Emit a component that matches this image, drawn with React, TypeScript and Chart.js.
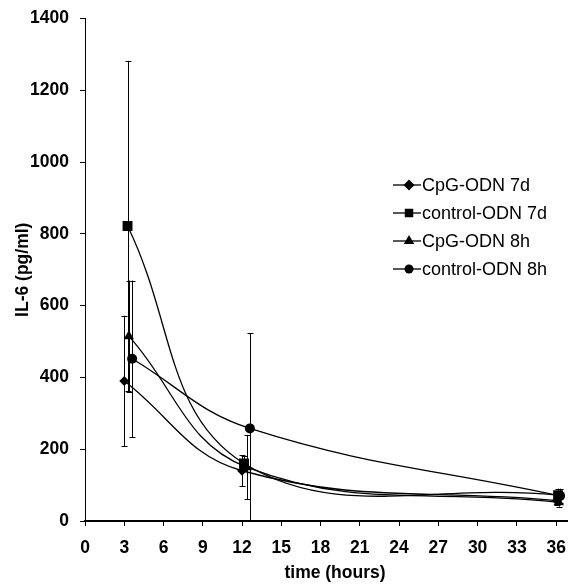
import React, { useEffect, useRef } from 'react';
import { Chart, registerables } from 'chart.js';

Chart.register(...registerables);

// ---- data ----
const seriesNames = ['CpG-ODN 7d', 'control-ODN 7d', 'CpG-ODN 8h', 'control-ODN 8h'];

const cpg7dX = [3.0, 12.0, 36.05];
const cpg7dY = [390, 140, 57];
const cpg7dErr = [182, 43, 12];

const ctl7dX = [3.25, 12.15, 36.15];
const ctl7dY = [822, 160, 72];
const ctl7dErr = [460, 20, 18];

const cpg8hX = [3.35, 12.35, 36.2];
const cpg8hY = [515, 150, 52];
const cpg8hErr = [155, 90, 12];

const ctl8hX = [3.6, 12.6, 36.3];
const ctl8hY = [452, 258, 70];
const ctl8hErr = [218, 265, 20];

const xTickValues = [0, 3, 6, 9, 12, 15, 18, 21, 24, 27, 30, 33, 36];
const yTickValues = [0, 200, 400, 600, 800, 1000, 1200, 1400];
const xTitle = 'time (hours)';
const yTitle = 'IL-6 (pg/ml)';

const seriesX = [cpg7dX, ctl7dX, cpg8hX, ctl8hX];
const seriesY = [cpg7dY, ctl7dY, cpg8hY, ctl8hY];
const seriesErr = [cpg7dErr, ctl7dErr, cpg8hErr, ctl8hErr];
const pointStyles = ['rectRot', 'rect', 'triangle', 'circle'];
const pointRadii = [5, 7, 6, 5];
const legendRadii = [5.5, 6, 6, 4.5];

const FONT = "'Liberation Sans', Arial, sans-serif";

function drawMarker(ctx: CanvasRenderingContext2D, style: string, r: number, x: number, y: number) {
  ctx.beginPath();
  if (style === 'rectRot') {
    ctx.moveTo(x, y - r);
    ctx.lineTo(x + r, y);
    ctx.lineTo(x, y + r);
    ctx.lineTo(x - r, y);
    ctx.closePath();
  } else if (style === 'rect') {
    const s = r * Math.SQRT1_2;
    ctx.rect(x - s, y - s, 2 * s, 2 * s);
  } else if (style === 'triangle') {
    ctx.moveTo(x, y - r);
    ctx.lineTo(x + r * Math.sin(Math.PI / 3), y + r * 0.5);
    ctx.lineTo(x - r * Math.sin(Math.PI / 3), y + r * 0.5);
    ctx.closePath();
  } else {
    ctx.arc(x, y, r, 0, Math.PI * 2);
  }
  ctx.fill();
}

const errorBarPlugin = {
  id: 'errorBars',
  beforeDatasetsDraw(chart: any) {
    const ctx = chart.ctx;
    const xs = chart.scales.x;
    const ys = chart.scales.y;
    ctx.save();
    ctx.strokeStyle = '#000';
    ctx.lineWidth = 1;
    seriesX.forEach((xArr, si) => {
      xArr.forEach((xv, i) => {
        const px = Math.round(xs.getPixelForValue(xv)) + 0.5;
        const lo = Math.max(0, seriesY[si][i] - seriesErr[si][i]);
        const hi = seriesY[si][i] + seriesErr[si][i];
        const pLo = ys.getPixelForValue(lo);
        const pHi = ys.getPixelForValue(hi);
        ctx.beginPath();
        ctx.moveTo(px, pLo);
        ctx.lineTo(px, pHi);
        if (seriesY[si][i] - seriesErr[si][i] > 0) {
          ctx.moveTo(px - 3, Math.round(pLo) + 0.5);
          ctx.lineTo(px + 3, Math.round(pLo) + 0.5);
        }
        ctx.moveTo(px - 3, Math.round(pHi) + 0.5);
        ctx.lineTo(px + 3, Math.round(pHi) + 0.5);
        ctx.stroke();
      });
    });
    ctx.restore();
  },
};

const legendPlugin = {
  id: 'customLegend',
  afterDatasetsDraw(chart: any) {
    const ctx = chart.ctx;
    const rows = [185, 213, 241, 269];
    ctx.save();
    seriesNames.forEach((name, i) => {
      const y = rows[i];
      ctx.strokeStyle = '#000';
      ctx.lineWidth = 1.3;
      ctx.beginPath();
      ctx.moveTo(393, y);
      ctx.lineTo(421, y);
      ctx.stroke();
      ctx.fillStyle = '#000';
      drawMarker(ctx, pointStyles[i], legendRadii[i], 409, y);
      ctx.font = `18px ${FONT}`;
      ctx.textAlign = 'left';
      ctx.textBaseline = 'middle';
      ctx.fillText(name, 422, y + 1);
    });
    // x-axis title
    ctx.font = `bold 17.5px ${FONT}`;
    ctx.textAlign = 'center';
    ctx.textBaseline = 'middle';
    ctx.fillText(xTitle, 335, 573.5);
    ctx.restore();
  },
};

export default function App() {
  const ref = useRef<HTMLCanvasElement>(null);

  useEffect(() => {
    const canvas = ref.current;
    if (!canvas) return;
    const chart = new Chart(canvas, {
      type: 'line',
      data: {
        datasets: seriesNames.map((name, si) => ({
          label: name,
          data: seriesX[si].map((x, i) => ({ x, y: seriesY[si][i] })),
          borderColor: '#000',
          backgroundColor: '#000',
          borderWidth: 1.3,
          pointStyle: pointStyles[si] as any,
          pointRadius: pointRadii[si],
          pointBorderWidth: 0,
          pointBackgroundColor: '#000',
          pointBorderColor: '#000',
          tension: 0.4,
          fill: false,
        })),
      },
      options: {
        responsive: false,
        animation: false,
        layout: { padding: { top: 18.5, right: 0, left: 0, bottom: 0 } },
        plugins: {
          legend: { display: false },
          tooltip: { enabled: false },
        },
        scales: {
          x: {
            type: 'linear',
            min: 0,
            max: 36.83,
            afterBuildTicks: (s: any) => {
              s.ticks = xTickValues.map((v) => ({ value: v }));
            },
            afterFit: (s: any) => {
              s.height = 63;
              s.paddingLeft = 0;
              s.paddingRight = 0;
            },
            grid: { display: true, drawOnChartArea: false, tickLength: 5, color: '#000', lineWidth: 1 },
            border: { display: true, color: '#000', width: 2 },
            ticks: {
              padding: 12,
              color: '#000',
              font: { family: FONT, size: 17.5, weight: 'bold' },
              maxRotation: 0,
              autoSkip: false,
              callback: (v: any) => String(v),
            },
            title: { display: false },
          },
          y: {
            type: 'linear',
            min: 0,
            max: 1400,
            afterBuildTicks: (s: any) => {
              s.ticks = yTickValues.map((v) => ({ value: v }));
            },
            afterFit: (s: any) => {
              s.width = 85;
              s.paddingTop = 0;
              s.paddingBottom = 0;
            },
            grid: { display: true, drawOnChartArea: false, tickLength: 5, color: '#000', lineWidth: 1 },
            border: { display: true, color: '#000', width: 1 },
            ticks: {
              padding: 11,
              color: '#000',
              font: { family: FONT, size: 17.5, weight: 'bold' },
              callback: (v: any) => String(v),
            },
            title: {
              display: true,
              text: yTitle,
              color: '#000',
              font: { family: FONT, size: 17.5, weight: 'bold' },
              padding: { top: 12.5, bottom: 0 },
            },
          },
        },
      },
      plugins: [errorBarPlugin, legendPlugin],
    });
    return () => chart.destroy();
  }, []);

  return (
    <div style={{ position: 'fixed', left: 0, top: 0, width: 574, height: 584, background: '#fff' }}>
      <canvas ref={ref} width={574} height={584} style={{ display: 'block' }} />
    </div>
  );
}
